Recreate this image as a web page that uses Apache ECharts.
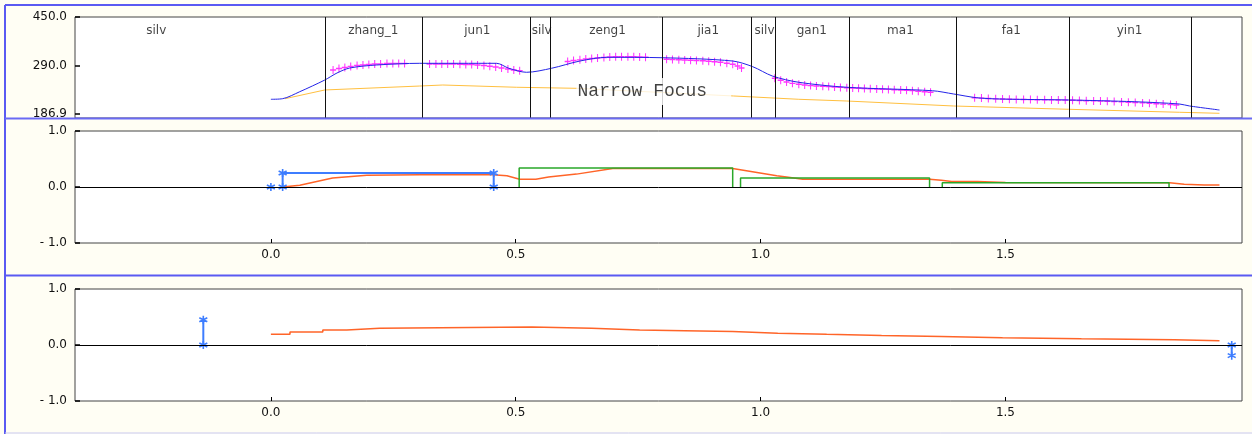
<!DOCTYPE html>
<html>
<head>
<meta charset="utf-8">
<script src="https://cdn.jsdelivr.net/npm/echarts@6.0.0/dist/echarts.min.js"></script>
<style>
html, body { margin: 0; padding: 0; background: #fffef4; }
#chart { width: 1252px; height: 434px; }
</style>
</head>
<body>
<div id="chart"></div>
<script>
// zones along the track, edges in x units
var zoneNames = ['silv', 'zhang_1', 'jun1', 'silv', 'zeng1', 'jia1', 'silv', 'gan1', 'ma1', 'fa1', 'yin1'];
var zoneEdges = [-0.577, 0.109, 0.309, 0.534, 0.572, 0.803, 0.983, 1.033, 1.176, 1.395, 1.629, 1.878];

var xTicks = [0, 0.5, 1.0, 1.5];
var xTickLabels = ['0.0', '0.5', '1.0', '1.5'];
var topTicks = [186.9, 290.0, 395.3];
var topTickLabels = ['186.9', '290.0', '450.0'];
var lowTicks = [-1, 0, 1];
var lowTickLabels = ['- 1.0', '0.0', '1.0'];

// top panel
var blueCurve = [
    [0.000, 218.5], [0.024, 219.8], [0.059, 234.8], [0.110, 259.9], [0.135, 275.0],
    [0.161, 285.7], [0.216, 292.2], [0.304, 295.8], [0.461, 295.8], [0.486, 285.1],
    [0.522, 276.5], [0.573, 285.1], [0.631, 300.7], [0.686, 308.7], [0.800, 307.8],
    [0.943, 300.7], [0.984, 288.5], [1.024, 268.5], [1.078, 255.0], [1.176, 244.3],
    [1.351, 236.9], [1.394, 229.9], [1.441, 221.9], [1.488, 219.1], [1.629, 217.0],
    [1.763, 213.3], [1.855, 208.4], [1.876, 204.1], [1.937, 195.5]
];
var amberCurve = [
    [0.029, 219.8], [0.110, 238.5], [0.304, 247.0], [0.351, 249.2], [0.502, 244.3],
    [0.624, 242.1], [0.945, 225.6], [1.078, 218.5], [1.176, 214.8], [1.394, 204.1],
    [1.629, 197.0], [1.855, 190.6], [1.937, 188.4]
];
var plusMarks = [
    [0.127, 281.4], [0.139, 284.6], [0.151, 286.8], [0.163, 288.9], [0.176, 291.1],
    [0.188, 292.2], [0.200, 293.2], [0.212, 294.3], [0.224, 294.3], [0.237, 295.4],
    [0.249, 295.4], [0.261, 295.4], [0.273, 295.4],
    [0.324, 294.3], [0.337, 294.3], [0.349, 294.3], [0.361, 294.3], [0.373, 294.3],
    [0.386, 293.7], [0.398, 293.2], [0.410, 293.2], [0.422, 292.2], [0.435, 291.1],
    [0.447, 289.4], [0.459, 287.9], [0.471, 285.7], [0.484, 283.6], [0.496, 281.4],
    [0.508, 279.9],
    [0.606, 299.7], [0.618, 301.8], [0.631, 303.3], [0.643, 305.0], [0.655, 306.1],
    [0.667, 307.2], [0.680, 308.3], [0.692, 309.3], [0.704, 309.8], [0.716, 310.0],
    [0.729, 310.0], [0.741, 309.8], [0.753, 309.3], [0.765, 308.9],
    [0.808, 304.4], [0.820, 304.0], [0.833, 303.5], [0.845, 302.9], [0.857, 302.5],
    [0.869, 301.8], [0.882, 301.2], [0.894, 300.3], [0.906, 299.2], [0.918, 298.0],
    [0.931, 296.0], [0.943, 293.7], [0.953, 290.0], [0.961, 285.7],
    [1.029, 263.6], [1.041, 259.3], [1.053, 255.6], [1.065, 252.8], [1.078, 250.7],
    [1.090, 249.2], [1.102, 247.9], [1.114, 247.0], [1.127, 246.4], [1.139, 245.8],
    [1.151, 244.9], [1.163, 244.0], [1.176, 243.4], [1.188, 242.7], [1.200, 242.1],
    [1.212, 241.7], [1.224, 241.2], [1.237, 240.6], [1.249, 240.2], [1.261, 239.7],
    [1.273, 239.1], [1.286, 238.5], [1.298, 237.8], [1.310, 237.0], [1.322, 235.9],
    [1.335, 234.8], [1.347, 233.5],
    [1.437, 221.9], [1.451, 221.1], [1.465, 220.2], [1.480, 219.5], [1.494, 219.1],
    [1.508, 218.7], [1.522, 218.3], [1.537, 218.0], [1.551, 217.8], [1.565, 217.6],
    [1.580, 217.4], [1.594, 217.2], [1.608, 217.0], [1.622, 216.8], [1.637, 216.3],
    [1.651, 215.9], [1.665, 215.5], [1.680, 215.0], [1.694, 214.6], [1.708, 214.2],
    [1.722, 213.5], [1.737, 212.9], [1.751, 212.2], [1.765, 211.6], [1.780, 210.7],
    [1.794, 209.9], [1.808, 209.0], [1.822, 208.2], [1.837, 207.1], [1.849, 206.2]
];

// middle panel
var redCurve2 = [
    [0.024, 0], [0.059, 0.03], [0.126, 0.16], [0.196, 0.21], [0.304, 0.22],
    [0.453, 0.22], [0.482, 0.20], [0.508, 0.14], [0.541, 0.14], [0.567, 0.18],
    [0.624, 0.23], [0.698, 0.33], [0.943, 0.33], [1.033, 0.20], [1.053, 0.18],
    [1.086, 0.14], [1.345, 0.14], [1.369, 0.12], [1.390, 0.10], [1.443, 0.10],
    [1.500, 0.08], [1.835, 0.077], [1.865, 0.05], [1.906, 0.036], [1.937, 0.036]
];
var blueStep2 = [[0.024, 0], [0.024, 0.25], [0.455, 0.25], [0.455, 0]];
var blueDot2 = [[0.0, 0]];
var greenBoxA = [[0.507, 0], [0.507, 0.34], [0.943, 0.34], [0.943, 0]];
var greenBoxB = [[0.959, 0], [0.959, 0.16], [1.345, 0.16], [1.345, 0]];
var greenBoxC = [[1.371, 0], [1.371, 0.077], [1.834, 0.077], [1.834, 0]];

// bottom panel
var redCurve3 = [
    [0.000, 0.19], [0.039, 0.23], [0.106, 0.27], [0.155, 0.30], [0.222, 0.32],
    [0.533, 0.30], [0.655, 0.27], [0.753, 0.255], [0.845, 0.24], [0.943, 0.21],
    [1.035, 0.19], [1.135, 0.17], [1.247, 0.15], [1.369, 0.13], [1.494, 0.11],
    [1.655, 0.095], [1.845, 0.077], [1.937, 0.077]
];
var blueBarL = [[-0.138, 0], [-0.138, 0.45]];
var blueBarR = [[1.962, 0], [1.962, -0.19]];

var chart = echarts.init(document.getElementById('chart'));

var STAR = 'path://M0,-10L0,10M-8.66,-5L8.66,5M-8.66,5L8.66,-5M-3,0L3,0';
var PLUS = 'path://M0,-10L0,10M-10,0L10,0';
var font = 'DejaVu Sans';

function pickLabel(vals, labels) {
    return function (v) {
        var best = 0;
        for (var i = 1; i < vals.length; i++) {
            if (Math.abs(vals[i] - v) < Math.abs(vals[best] - v)) best = i;
        }
        return labels[best];
    };
}

function xAxisFor(idx, showLabels) {
    return {
        type: 'value', gridIndex: idx, min: -0.4, max: 1.983,
        axisLine: { show: false, onZero: false },
        splitLine: { show: false },
        axisTick: { show: showLabels, inside: true, length: 4, customValues: xTicks,
            lineStyle: { color: '#000' } },
        axisLabel: { show: showLabels, customValues: xTicks, margin: 6,
            fontFamily: font, fontSize: 12, color: '#111',
            formatter: pickLabel(xTicks, xTickLabels) }
    };
}

function yAxisFor(idx, min, max, ticks, labels) {
    return {
        type: 'value', gridIndex: idx, min: min, max: max, position: 'left',
        axisLine: { show: false, onZero: false },
        splitLine: { show: false },
        axisTick: { show: true, inside: true, length: 5, customValues: ticks,
            lineStyle: { color: '#000', width: 1.5 } },
        axisLabel: { customValues: ticks, margin: 8, fontFamily: font, fontSize: 12,
            color: '#111', verticalAlign: 'middle', padding: [0, 0, 8, 0],
            formatter: pickLabel(ticks, labels) }
    };
}

function line(idx, data, color, width, extra) {
    var s = {
        type: 'line', xAxisIndex: idx, yAxisIndex: idx, data: data,
        symbol: 'none', silent: true,
        lineStyle: { color: color, width: width },
        itemStyle: { color: color }
    };
    for (var k in extra) s[k] = extra[k];
    return s;
}

function starLine(idx, data, color) {
    return line(idx, data, color, 2, {
        symbol: STAR, symbolSize: 8, showSymbol: true,
        itemStyle: { color: color, borderColor: color, borderWidth: 1.6 }
    });
}

var zoneLabels = zoneNames.map(function (n, i) {
    return { name: n, value: [(zoneEdges[i] + zoneEdges[i + 1]) / 2, 365.3] };
});
var dividerLines = zoneEdges.slice(1).map(function (e) { return { xAxis: e }; });
var zeroLine = { symbol: 'none', silent: true, label: { show: false },
    lineStyle: { color: '#000', width: 1, type: 'solid' }, data: [{ yAxis: 0 }] };

var blue = '#3d7dff';
var red = '#ff6428';
var green = '#2aa82a';

var option = {
    backgroundColor: '#fffef4',
    animation: false,
    grid: [
        { left: 75, width: 1167, top: 17, height: 101, show: true, backgroundColor: '#fff',
          borderColor: '#444', borderWidth: 1, outerBoundsMode: 'none' },
        { left: 75, width: 1167, top: 131, height: 112, show: true, backgroundColor: '#fff',
          borderColor: '#444', borderWidth: 1, outerBoundsMode: 'none' },
        { left: 75, width: 1167, top: 289, height: 112, show: true, backgroundColor: '#fff',
          borderColor: '#444', borderWidth: 1, outerBoundsMode: 'none' }
    ],
    xAxis: [xAxisFor(0, false), xAxisFor(1, true), xAxisFor(2, true)],
    yAxis: [
        yAxisFor(0, 178.3, 395.3, topTicks, topTickLabels),
        yAxisFor(1, -1, 1, lowTicks, lowTickLabels),
        yAxisFor(2, -1, 1, lowTicks, lowTickLabels)
    ],
    graphic: [
        { type: 'line', shape: { x1: 5, y1: 5, x2: 1252, y2: 5 }, style: { stroke: '#5a5af2', lineWidth: 2 }, z: 100 },
        { type: 'line', shape: { x1: 5, y1: 5, x2: 5, y2: 434 }, style: { stroke: '#5a5af2', lineWidth: 2 }, z: 100 },
        { type: 'line', shape: { x1: 5, y1: 118.5, x2: 1252, y2: 118.5 }, style: { stroke: '#6a6af4', lineWidth: 2 }, z: 100 },
        { type: 'line', shape: { x1: 5, y1: 275.5, x2: 1252, y2: 275.5 }, style: { stroke: '#5a5af2', lineWidth: 2 }, z: 100 },
        { type: 'line', shape: { x1: 5, y1: 433, x2: 1252, y2: 433 }, style: { stroke: '#c8c8f0', lineWidth: 1 }, z: 100 }
    ],
    series: [
        // top panel
        line(0, amberCurve, '#ffc040', 1, {
            markLine: { symbol: 'none', silent: true, label: { show: false },
                lineStyle: { color: '#111', width: 1, type: 'solid' }, data: dividerLines }
        }),
        {
            type: 'scatter', xAxisIndex: 0, yAxisIndex: 0, data: plusMarks, silent: true,
            symbol: PLUS, symbolSize: [6, 8],
            itemStyle: { color: '#ff00ff', borderColor: '#ff00ff', borderWidth: 1.2 }
        },
        line(0, blueCurve, '#2424e8', 1, { smooth: 0.3 }),
        {
            type: 'scatter', xAxisIndex: 0, yAxisIndex: 0, data: zoneLabels, silent: true,
            symbolSize: 0,
            label: { show: true, position: 'inside', formatter: '{b}', fontFamily: font,
                fontSize: 12, color: '#111' }
        },
        {
            type: 'scatter', xAxisIndex: 0, yAxisIndex: 0, silent: true, z: 20,
            symbolSize: 0, data: [{ name: 'Narrow Focus', value: [0.782, 235.2] }],
            label: { show: true, position: 'inside', formatter: '{b}',
                fontFamily: 'Liberation Mono', fontSize: 18, color: '#111',
                backgroundColor: '#fff', padding: [5, 24, 4, 1] }
        },
        // middle panel
        line(1, redCurve2, red, 1.5, { markLine: zeroLine }),
        line(1, greenBoxA, green, 1.5),
        line(1, greenBoxB, green, 1.5),
        line(1, greenBoxC, green, 1.5),
        starLine(1, blueStep2, blue),
        starLine(1, blueDot2, blue),
        // bottom panel
        line(2, redCurve3, red, 1.5, { step: 'end', markLine: zeroLine }),
        starLine(2, blueBarL, blue),
        starLine(2, blueBarR, blue)
    ]
};

chart.setOption(option);
</script>
</body>
</html>
